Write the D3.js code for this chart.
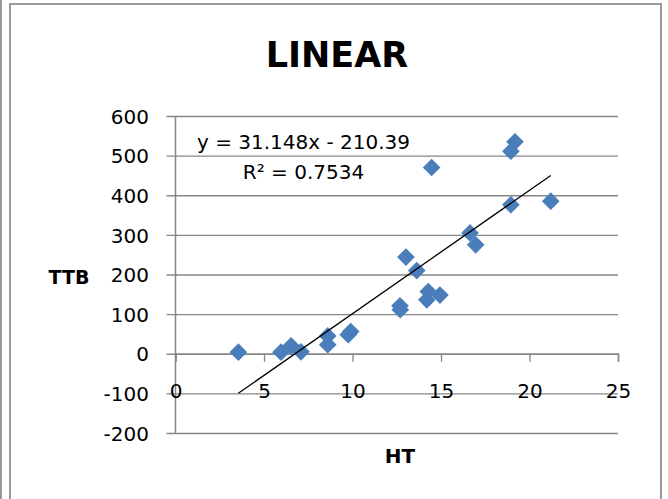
<!DOCTYPE html>
<html>
<head>
<meta charset="utf-8">
<script src="https://cdn.jsdelivr.net/npm/d3@7"></script>
<style>
  body { margin: 0; background: #fff; }
  text { font-family: "DejaVu Sans", sans-serif; fill: #000; }
</style>
</head>
<body>
<script>
// HT vs TTB scatter with linear trendline
const htValues = [3.55, 5.96, 6.53, 7.09, 8.6, 8.6, 9.76, 9.9, 12.68, 12.7, 13.02, 13.63,
                  14.28, 14.2, 14.94, 14.47, 16.64, 16.96, 18.95, 18.95, 19.18, 21.2];
const ttbValues = [4, 4, 20, 5, 45, 23, 48, 56, 121, 111, 244, 210,
                   157, 136, 148, 470, 305, 275, 376, 511, 535, 385];
const xTicks = [0, 5, 10, 15, 20, 25];
const yTicks = [-200, -100, 0, 100, 200, 300, 400, 500, 600];
const slope = 31.148;
const intercept = -210.39;
const rSquared = "0.7534";

const svgWidth = 668, svgHeight = 499;
const plotLeft = 175.5, plotRight = 618, plotTop = 116, plotBottom = 433;
const gridColor = "#868686";

const svg = d3.select("body").append("svg")
  .attr("width", svgWidth)
  .attr("height", svgHeight);

svg.append("rect").attr("width", svgWidth).attr("height", svgHeight).attr("fill", "#fff");

// chart frame
svg.append("line")
  .attr("x1", 1).attr("y1", 0).attr("x2", 1).attr("y2", svgHeight)
  .attr("stroke", "#9a9a9a").attr("stroke-width", 2);
svg.append("rect")
  .attr("x", 10).attr("y", 4)
  .attr("width", 651).attr("height", 520)
  .attr("fill", "none")
  .attr("stroke", "#9a9a9a")
  .attr("stroke-width", 2);

const xScale = d3.scaleLinear().domain([0, 25]).range([plotLeft, plotRight]);
const yScale = d3.scaleLinear().domain([-200, 600]).range([plotBottom, plotTop]);

// horizontal gridlines + y axis labels (plain hyphen for negatives)
const gridLen = plotRight - plotLeft + 9;
const yAxis = d3.axisLeft(yScale)
  .tickValues(yTicks)
  .tickFormat(d => String(d))
  .tickSize(gridLen)
  .tickPadding(0);
const gy = svg.append("g")
  .attr("transform", "translate(" + plotRight + ",0)")
  .call(yAxis);
gy.select(".domain").remove();
gy.selectAll(".tick line").attr("stroke", gridColor).attr("stroke-width", 1.3);
gy.selectAll(".tick text")
  .attr("x", 149 - plotRight)
  .attr("dy", "0.36em")
  .style("font-size", "20px")
  .style("font-family", "DejaVu Sans");

svg.append("line")
  .attr("x1", plotLeft).attr("x2", plotLeft)
  .attr("y1", plotTop).attr("y2", plotBottom)
  .attr("stroke", gridColor).attr("stroke-width", 1.5);

// x axis crosses at y = 0
const xAxis = d3.axisBottom(xScale).tickValues(xTicks).tickSize(8).tickPadding(22);
const gx = svg.append("g")
  .attr("transform", "translate(0," + yScale(0) + ")")
  .call(xAxis);
gx.select(".domain").attr("stroke", gridColor).attr("stroke-width", 1.5);
gx.selectAll(".tick line").attr("stroke", gridColor).attr("stroke-width", 1.3);
gx.selectAll(".tick text")
  .style("font-size", "20px")
  .style("font-family", "DejaVu Sans");

// data markers
const diamond = d3.symbol().type(d3.symbolDiamond2).size(200);
svg.append("g")
  .selectAll("path")
  .data(htValues.map((h, i) => [h, ttbValues[i]]))
  .join("path")
  .attr("d", diamond)
  .attr("transform", d => "translate(" + xScale(d[0]) + "," + yScale(d[1]) + ")")
  .attr("fill", "#4a7ebb");

// trendline over the data range
const xMin = d3.min(htValues), xMax = d3.max(htValues);
svg.append("line")
  .attr("x1", xScale(xMin)).attr("y1", yScale(slope * xMin + intercept))
  .attr("x2", xScale(xMax)).attr("y2", yScale(slope * xMax + intercept))
  .attr("stroke", "#000").attr("stroke-width", 1.3);

// equation label
svg.append("text")
  .attr("x", 303.5).attr("y", 149)
  .attr("text-anchor", "middle")
  .style("font-size", "20px")
  .text("y = " + slope + "x - " + Math.abs(intercept));
svg.append("text")
  .attr("x", 303.5).attr("y", 179)
  .attr("text-anchor", "middle")
  .style("font-size", "20px")
  .text("R² = " + rSquared);

// titles
svg.append("text")
  .attr("x", 337).attr("y", 67)
  .attr("text-anchor", "middle")
  .style("font-size", "35px")
  .style("font-weight", "bold")
  .text("LINEAR");
svg.append("text")
  .attr("x", 69).attr("y", 284)
  .attr("text-anchor", "middle")
  .style("font-size", "19px")
  .style("font-weight", "bold")
  .text("TTB");
svg.append("text")
  .attr("x", 400).attr("y", 463)
  .attr("text-anchor", "middle")
  .style("font-size", "20px")
  .style("font-weight", "bold")
  .text("HT");
</script>
</body>
</html>
